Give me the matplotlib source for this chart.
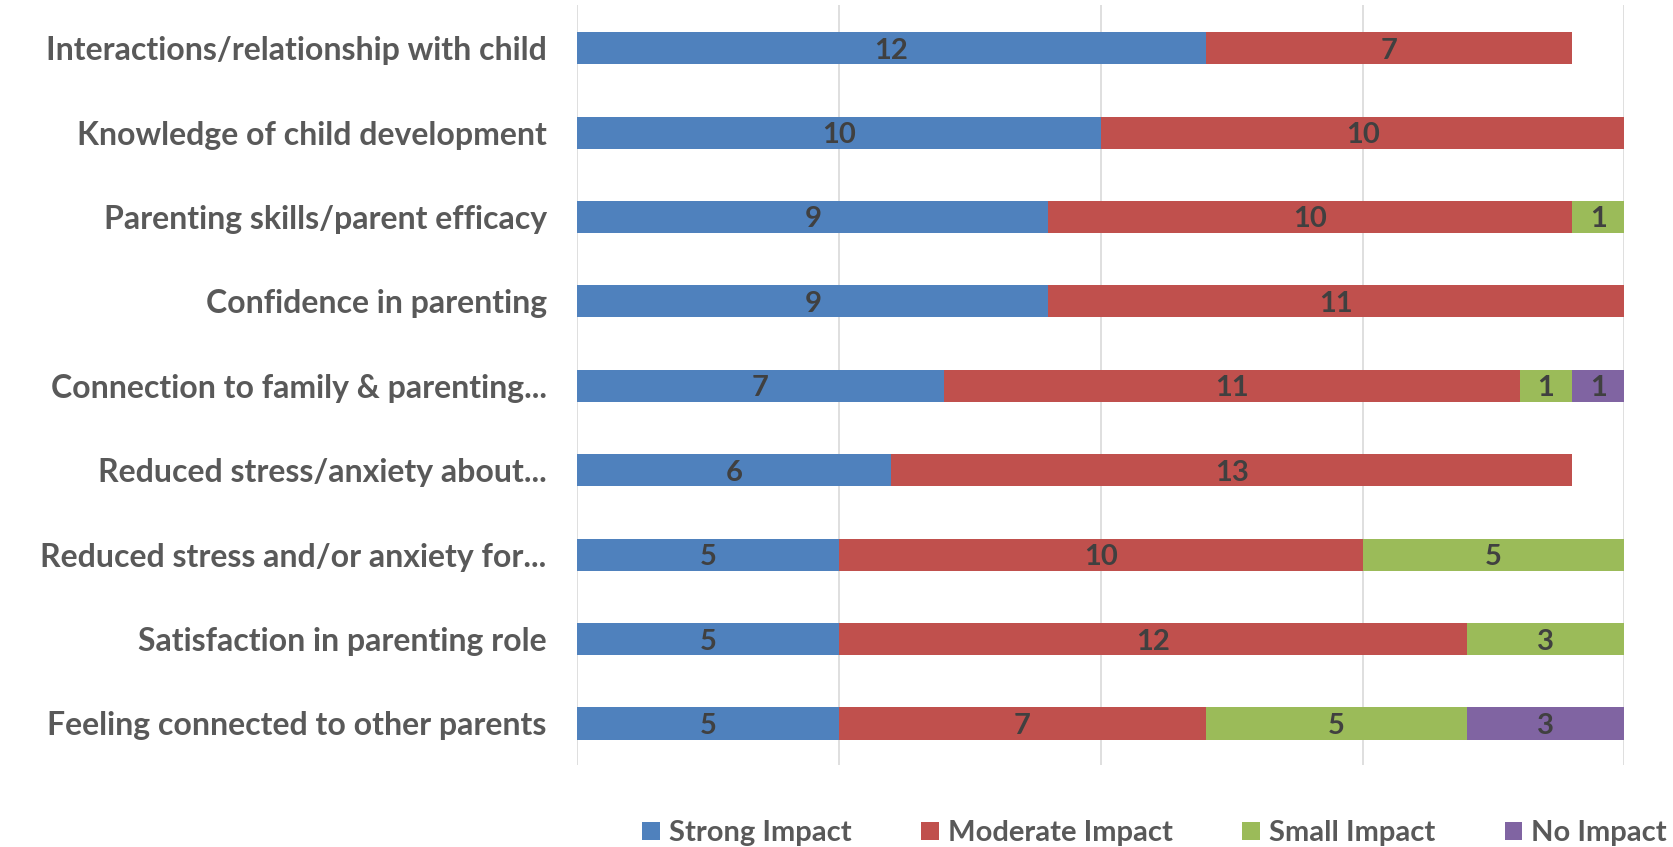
import matplotlib.pyplot as plt
import numpy as np

# survey responses: number of parents reporting each level of impact
categories = [
    'Interactions/relationship with child',
    'Knowledge of child development',
    'Parenting skills/parent efficacy',
    'Confidence in parenting',
    'Connection to family & parenting...',
    'Reduced stress/anxiety about...',
    'Reduced stress and/or anxiety for...',
    'Satisfaction in parenting role',
    'Feeling connected to other parents',
]
strong = [12, 10, 9, 9, 7, 6, 5, 5, 5]
moderate = [7, 10, 10, 11, 11, 13, 10, 12, 7]
small = [0, 0, 1, 0, 1, 0, 5, 3, 5]
no_impact = [0, 0, 0, 0, 1, 0, 0, 0, 3]

series = [
    ('Strong Impact', strong, '#4F81BD'),
    ('Moderate Impact', moderate, '#C0504D'),
    ('Small Impact', small, '#9BBB59'),
    ('No Impact', no_impact, '#8064A2'),
]

plt.rcParams['font.family'] = ['Lato', 'DejaVu Sans']
plt.rcParams['font.weight'] = 'bold'

fig = plt.figure(figsize=(16.73, 8.47), dpi=100)
ax = fig.add_axes([0.345, 0.097, 0.626, 0.897])

y = np.arange(len(categories))[::-1]
left = np.zeros(len(categories))
for name, vals, col in series:
    vals = np.array(vals, dtype=float)
    ax.barh(y, vals, left=left, height=0.38, color=col, label=name,
            edgecolor='none', zorder=3)
    for yi, l, v in zip(y, left, vals):
        if v > 0:
            ax.text(l + v / 2, yi, f'{int(v)}', ha='center', va='center_baseline',
                    fontsize=21, fontweight='bold', color='#404040', zorder=4)
    left += vals

ax.set_xlim(0, 20)
ax.set_ylim(-0.49, 8.51)
ax.set_xticks([0, 5, 10, 15, 20])
ax.set_xticklabels([])
ax.tick_params(axis='x', length=0)
ax.tick_params(axis='y', length=0, pad=22)
ax.set_yticks(y)
ax.set_yticklabels(categories, fontsize=23, fontweight='bold', color='#595959')
ax.grid(axis='x', color='#D9D9D9', linewidth=1.2, zorder=0)
for s in ax.spines.values():
    s.set_visible(False)

leg = fig.legend(loc='lower right', bbox_to_anchor=(1.012, -0.03), ncol=4,
                 frameon=False, fontsize=21, handlelength=0.6, handleheight=0.6,
                 handletextpad=0.3, columnspacing=2.4)
for t in leg.get_texts():
    t.set_color('#595959')
    t.set_fontweight('bold')

fig.savefig('out.png', dpi=100)
